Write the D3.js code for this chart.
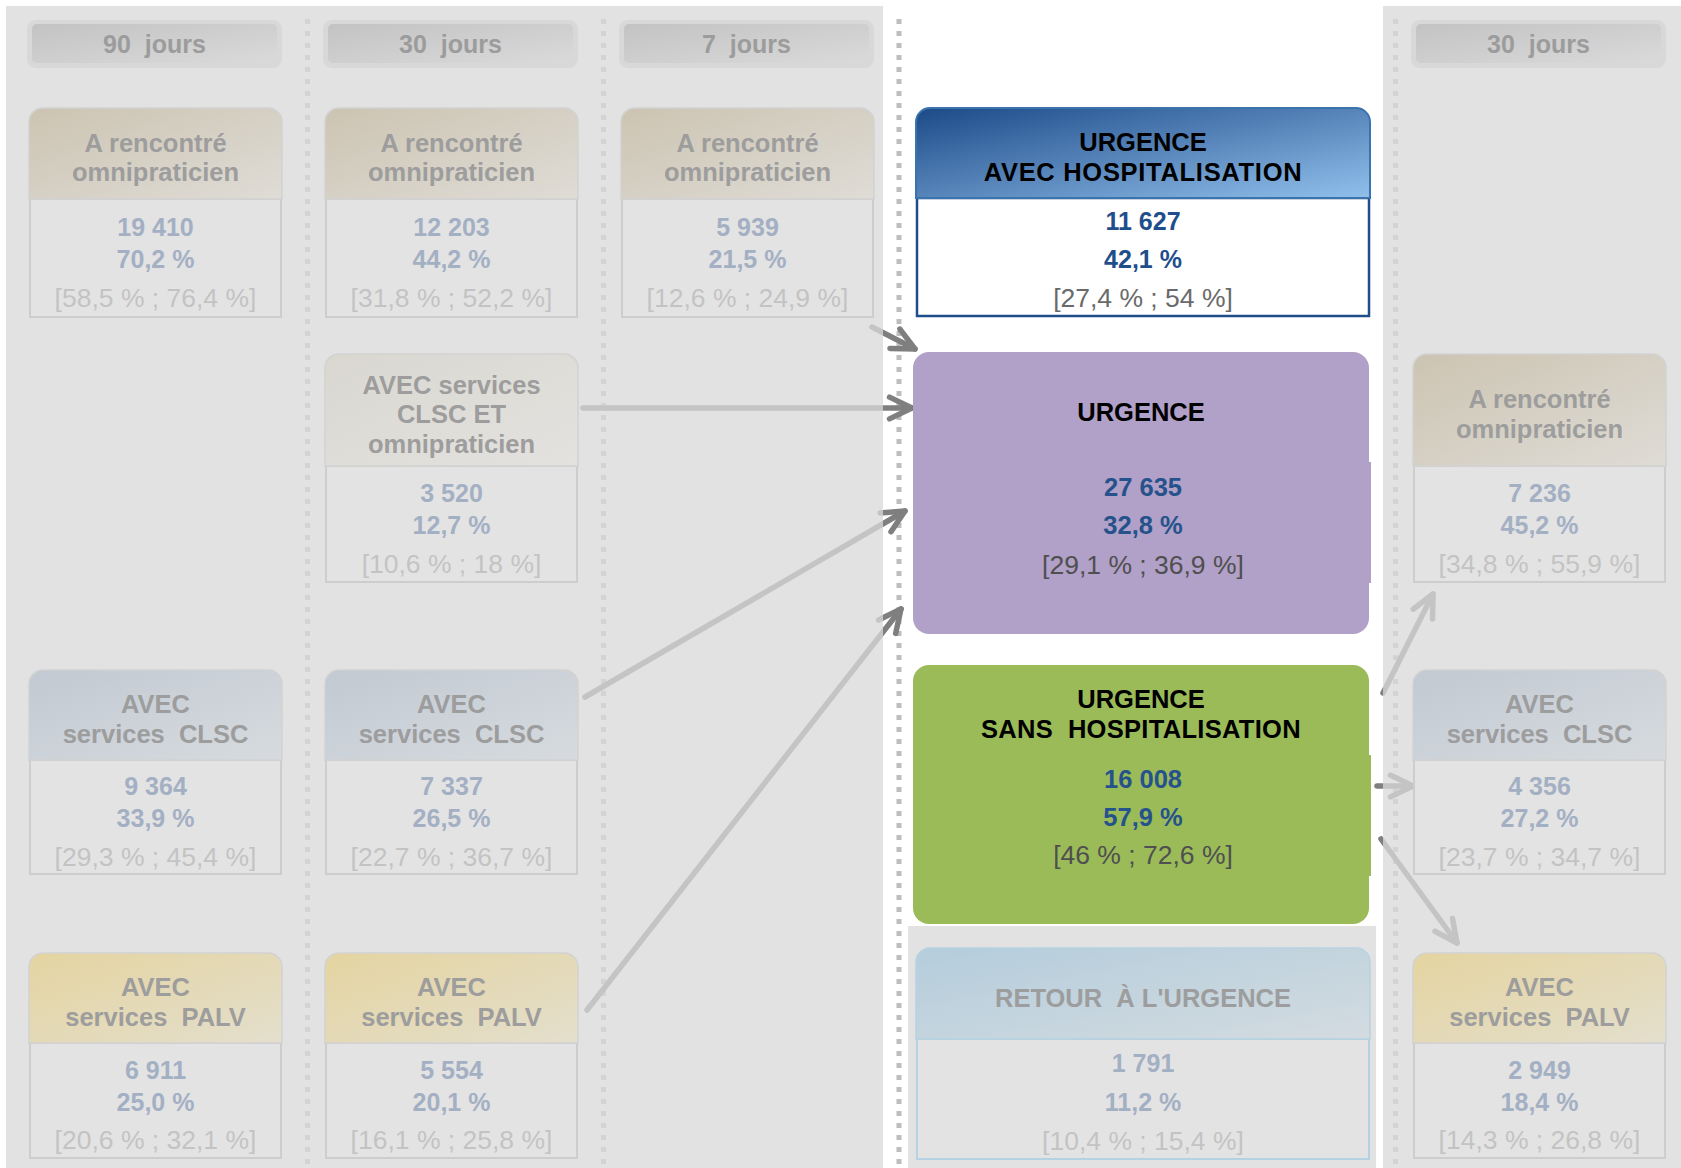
<!DOCTYPE html>
<html><head><meta charset="utf-8">
<script src="https://cdn.jsdelivr.net/npm/d3@7"></script>
<style>
html,body{margin:0;padding:0;background:#fff;}
svg{display:block;font-family:"Liberation Sans",Arial,sans-serif;}
text{white-space:pre;}
</style>
</head><body>
<svg id="c" width="1681" height="1168"></svg>
<script>
// ---------------- DATA ----------------
const periodCols = ["c90","c30","c7","post"];
const periodLabels = ["90  jours","30  jours","7  jours","30  jours"];

const nodeIds = ["omni90","clsc90","palv90","omni30","clscomni30","clsc30","palv30","omni7",
                 "urgHosp","urg","urgSans","retour","omniPost","clscPost","palvPost"];
const nodeTitles = [
  ["A rencontré","omnipraticien"], ["AVEC","services  CLSC"], ["AVEC","services  PALV"],
  ["A rencontré","omnipraticien"], ["AVEC services","CLSC ET","omnipraticien"],
  ["AVEC","services  CLSC"], ["AVEC","services  PALV"],
  ["A rencontré","omnipraticien"],
  ["URGENCE","AVEC HOSPITALISATION"], ["URGENCE"], ["URGENCE","SANS  HOSPITALISATION"],
  ["RETOUR  À L'URGENCE"],
  ["A rencontré","omnipraticien"], ["AVEC","services  CLSC"], ["AVEC","services  PALV"]];
const nodeCounts = [19410, 9364, 6911, 12203, 3520, 7337, 5554, 5939, 11627, 27635, 16008, 1791, 7236, 4356, 2949];
const nodePcts   = [70.2, 33.9, 25.0, 44.2, 12.7, 26.5, 20.1, 21.5, 42.1, 32.8, 57.9, 11.2, 45.2, 27.2, 18.4];
const ciLow      = [58.5, 29.3, 20.6, 31.8, 10.6, 22.7, 16.1, 12.6, 27.4, 29.1, 46, 10.4, 34.8, 23.7, 14.3];
const ciHigh     = [76.4, 45.4, 32.1, 52.2, 18, 36.7, 25.8, 24.9, 54, 36.9, 72.6, 15.4, 55.9, 34.7, 26.8];

const linkSources = ["omni7","clscomni30","clsc30","palv30","urgSans","urgSans","urgSans"];
const linkTargets = ["urg","urg","urg","urg","omniPost","clscPost","palvPost"];

// ---------------- LAYOUT (positions / styles only) ----------------
const nodeCol   = ["c90","c90","c90","c30","c30","c30","c30","c7","mid","mid","mid","mid","post","post","post"];
const nodeRow   = ["r1","r3","r4","r1","r2","r3","r4","r1","b1","p","g","rt","r2","r3","r4"];
const nodeStyle = ["omni","clsc","palv","omni","clscomni","clsc","palv","omni","blue","purple","green","retour","omni","clsc","palv"];

const colLeft  = d3.scaleOrdinal().domain(["c90","c30","c7","mid","post"]).range([29,325,621,916,1413]);
const colWidth = d3.scaleOrdinal().domain(["c90","c30","c7","mid","post"]).range([253,253,253,454,253]);
// row -> [top, header bottom, bottom]
const rowGeom = d3.scaleOrdinal().domain(["r1","r2","r3","r4","b1","p","g","rt"]).range([
  [108,199,317],[354,466,582],[670,760,874],[953,1043,1158],
  [108,198,316],[352,352,634],[665,665,924],[948,1039,1159]]);
// body line offsets from body centre
const bodyOff = d3.scaleOrdinal().domain(["faded","blue","retour"]).range([[-31,1,39],[-36,2,40.5],[-36,3,41]]);

const loc = d3.formatLocale({decimal:",", thousands:" ", grouping:[3], currency:["",""]});
const fCount = loc.format(",d");
const fPct = v => loc.format(".1f")(v) + " %";
const fCI = v => loc.format(".1~f")(v) + " %";

const nodes = nodeIds.map((id,i)=>{
  const col = nodeCol[i], g = rowGeom(nodeRow[i]);
  const x = colLeft(col), w = colWidth(col);
  return {id, i, x, w, top:g[0], hb:g[1], bottom:g[2], style:nodeStyle[i],
          titles:nodeTitles[i], count:fCount(nodeCounts[i]), pct:fPct(nodePcts[i]),
          ci:"[" + fCI(ciLow[i]) + " ; " + fCI(ciHigh[i]) + "]"};
});
const byId = new Map(nodes.map(n=>[n.id,n]));

// ---------------- DRAW ----------------
const W = 1681, H = 1168;
const svg = d3.select("#c");
const defs = svg.append("defs");
function grad(id,c1,c2){
  const g = defs.append("linearGradient").attr("id",id)
    .attr("x1","0").attr("y1","0").attr("x2","1").attr("y2","1");
  g.append("stop").attr("offset","0").attr("stop-color",c1);
  g.append("stop").attr("offset","1").attr("stop-color",c2);
}
grad("g_omni","#ccc4b2","#dfdcd6");
grad("g_clsc","#c1c9d2","#d7dbdf");
grad("g_palv","#e4d4a0","#e4dfcd");
grad("g_clscomni","#d9d7d0","#e3e2df");
grad("g_retour","#b4cddc","#d3dbe0");
grad("g_blue","#1c4a88","#92c0ec");
grad("g_head","#c3c3c3","#dadada");

svg.append("rect").attr("width",W).attr("height",H).attr("fill","#fff");

// dotted separators, placed in the gaps between columns
const gapCols = [["c90","c30"],["c30","c7"],["c7","mid"],["mid","post"]];
svg.append("g").selectAll("line").data(gapCols).join("line")
  .attr("x1",d=>(colLeft(d[0])+colWidth(d[0])+colLeft(d[1]))/2+4)
  .attr("x2",d=>(colLeft(d[0])+colWidth(d[0])+colLeft(d[1]))/2+4)
  .attr("y1",19).attr("y2",H)
  .attr("stroke","#bdbdbd").attr("stroke-width",5).attr("stroke-dasharray","5 7");

// arrows
function anchor(n, sx, dx, sy, dy){
  const X = {l:n.x, r:n.x+n.w}[sx], Y = {t:n.top, b:n.bottom}[sy];
  return [X+dx, Y+dy];
}
const linkAnchors = [
  [["r",-2,"b",10],["l",-1,"t",-3]],
  [["r",5,"t",54],["l",-4,"t",56]],
  [["r",7,"t",27],["l",-11,"t",159]],
  [["r",9,"t",57],["l",-15,"t",257]],
  [["r",13,"t",28],["l",20,"b",12]],
  [["r",7,"t",121],["l",0,"t",116]],
  [["r",11,"t",174],["l",44,"t",-10]]
];
const links = linkSources.map((s,i)=>{
  const a = linkAnchors[i];
  return {p0:anchor(byId.get(s),...a[0]), p1:anchor(byId.get(linkTargets[i]),...a[1])};
});
const ag = svg.append("g").attr("fill","none").attr("stroke","#7f7f7f")
  .attr("stroke-width",5.5).attr("stroke-linecap","round").attr("stroke-linejoin","round");
links.forEach(l=>{
  const [x0,y0]=l.p0,[x1,y1]=l.p1;
  const ang = Math.atan2(y1-y0,x1-x0), L=25, h=0.45;
  const w1=[x1-L*Math.cos(ang-h), y1-L*Math.sin(ang-h)];
  const w2=[x1-L*Math.cos(ang+h), y1-L*Math.sin(ang+h)];
  ag.append("path").attr("d",`M${x0},${y0}L${x1},${y1}`);
  ag.append("path").attr("d",`M${w1[0]},${w1[1]}L${x1},${y1}L${w2[0]},${w2[1]}`);
});

// translucent grey panels (fade the secondary parts)
const panels = [[6,6,883,H],[908,926,1376,H],[1383,6,W,H]];
svg.append("g").selectAll("rect").data(panels).join("rect")
  .attr("x",d=>d[0]).attr("y",d=>d[1]).attr("width",d=>d[2]-d[0]).attr("height",d=>d[3]-d[1])
  .attr("fill","#d9d9d9").attr("opacity",0.764);

// period headers
const ph = svg.append("g");
periodCols.forEach((c,i)=>{
  const x = colLeft(c)-2, w = colWidth(c)+2;
  ph.append("rect").attr("x",x).attr("y",20).attr("width",w).attr("height",48).attr("rx",9)
    .attr("fill","#d8d8d8");
  ph.append("rect").attr("x",x+5).attr("y",24).attr("width",w-10).attr("height",39).attr("rx",5)
    .attr("fill","url(#g_head)");
  ph.append("text").attr("x",x+w/2).attr("y",44).attr("dy","0.36em").attr("text-anchor","middle")
    .attr("font-size",25).attr("font-weight","bold").attr("fill","#9c9c9c").text(periodLabels[i]);
});

function headerPath(x,y0,y1,w,r){
  return `M${x},${y1}V${y0+r}A${r},${r} 0 0 1 ${x+r},${y0}H${x+w-r}A${r},${r} 0 0 1 ${x+w},${y0+r}V${y1}Z`;
}
function addText(g, str, x, y, size, weight, fill, ls){
  const t = g.append("text").attr("x",x).attr("y",y).attr("dy","0.36em").attr("text-anchor","middle")
    .attr("font-size",size).attr("font-weight",weight).attr("fill",fill).text(str);
  if (ls) t.attr("letter-spacing",ls);
  return t;
}

const ng = svg.append("g");
nodes.forEach(n=>{
  const g = ng.append("g");
  const cx = n.x + n.w/2;
  if (n.style==="purple" || n.style==="green"){
    const fill = n.style==="purple" ? "#b1a0c7" : "#9bbb59";
    g.append("rect").attr("x",n.x-3).attr("y",n.top).attr("width",n.w+2).attr("height",n.bottom-n.top)
      .attr("rx",16).attr("fill",fill);
    const nb = n.style==="purple" ? [110,231] : [90,211];
    g.append("rect").attr("x",n.x-1).attr("y",n.top+nb[0]).attr("width",n.w+2).attr("height",nb[1]-nb[0])
      .attr("fill",fill);
    const tY = n.style==="purple" ? [n.top+60] : [n.top+34, n.top+64];
    const bY = n.style==="purple" ? [135,173,212] : [114,152,189];
    n.titles.forEach((t,k)=>addText(g,t,cx-2,tY[k],25.5,"bold","#000", k===1 ? 0.3 : null));
    addText(g,n.count,cx,n.top+bY[0],25.5,"bold","#26528c");
    addText(g,n.pct,cx,n.top+bY[1],25.5,"bold","#26528c");
    addText(g,n.ci,cx,n.top+bY[2],26.5,"normal","#4f4f4f");
    return;
  }
  const blue = n.style==="blue", ret = n.style==="retour";
  const hFill = blue ? "url(#g_blue)" : `url(#g_${n.style})`;
  const hStroke = blue ? "#3b74ad" : ret ? "#b7d2e1" : "#d2d2d2";
  const bStroke = blue ? "#1f4e8c" : ret ? "#b5d2e2" : "#cdcdcd";
  g.append("rect").attr("x",n.x+1).attr("y",n.hb).attr("width",n.w-2).attr("height",n.bottom-n.hb)
    .attr("fill",blue ? "#fff" : "#e3e3e3").attr("stroke",bStroke).attr("stroke-width",blue?2.5:2);
  g.append("path").attr("d",headerPath(n.x,n.top,n.hb,n.w,14))
    .attr("fill",hFill).attr("stroke",hStroke).attr("stroke-width",blue?2:1.5);
  const tc = (n.top+n.hb)/2 + 4;
  const tFill = blue ? "#000" : "#9d9d9d";
  n.titles.forEach((t,k)=>addText(g,t,cx,tc+(k-(n.titles.length-1)/2)*29.5,25.5,"bold",tFill,
    blue && k===1 ? 0.7 : null));
  const bc = (n.hb+n.bottom)/2;
  const off = bodyOff(blue ? "blue" : ret ? "retour" : "faded");
  const numFill = blue ? "#1f4e8c" : "#a3b0c3";
  addText(g,n.count,cx,bc+off[0],25,"bold",numFill);
  addText(g,n.pct,cx,bc+off[1],25,"bold",numFill);
  addText(g,n.ci,cx,bc+off[2],26.5,"normal",blue ? "#6a6a6a" : "#c3c3c3");
});
</script>
</body></html>
